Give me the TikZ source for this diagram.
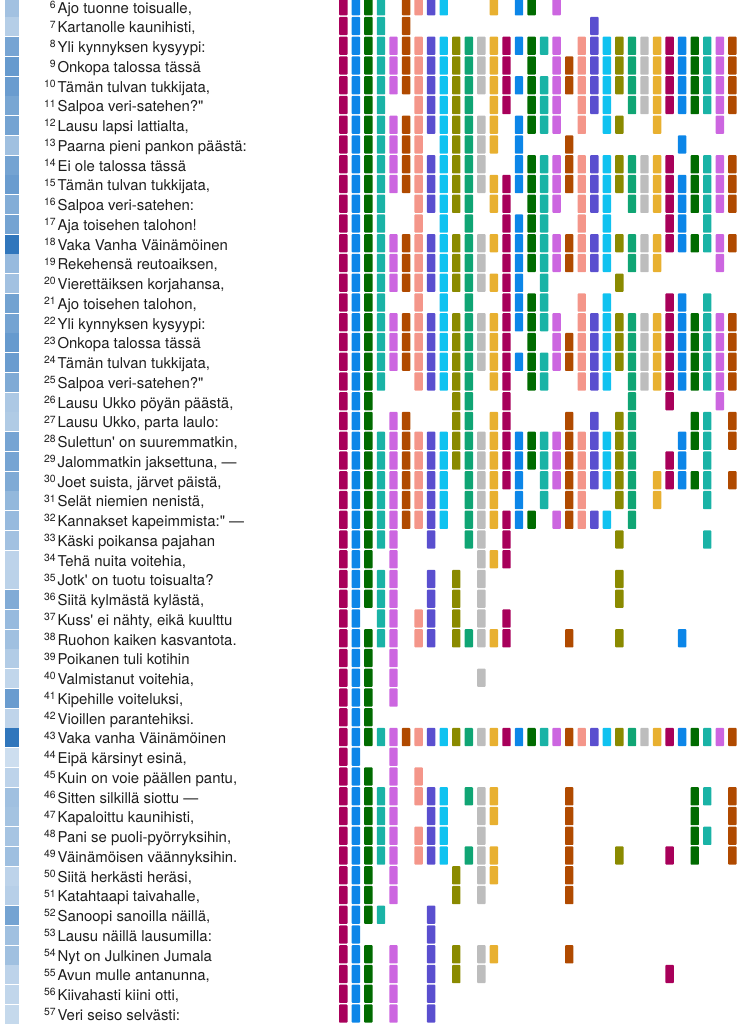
\documentclass[tikz,border=0pt]{standalone}
\usepackage{fontspec}
\newfontfamily\versefont{TeX Gyre Heros}
\usepackage{tikz}

% column colours (13 repeating)
\definecolor{col0}{RGB}{168,0,90}
\definecolor{col1}{RGB}{12,134,232}
\definecolor{col2}{RGB}{0,107,0}
\definecolor{col3}{RGB}{26,179,166}
\definecolor{col4}{RGB}{204,102,224}
\definecolor{col5}{RGB}{176,74,0}
\definecolor{col6}{RGB}{244,150,138}
\definecolor{col7}{RGB}{90,79,207}
\definecolor{col8}{RGB}{16,194,240}
\definecolor{col9}{RGB}{138,138,0}
\definecolor{col10}{RGB}{16,165,116}
\definecolor{col11}{RGB}{189,189,189}
\definecolor{col12}{RGB}{232,176,48}
\definecolor{stripblue}{RGB}{48,118,188}
\definecolor{versegray}{RGB}{30,30,30}

\begin{document}
\begin{tikzpicture}[x=0.75pt, y=-0.75pt,
    verse/.style={anchor=base west, inner sep=0pt, text=versegray,
      font=\versefont\fontsize{11.2}{13}\selectfont},
    linenum/.style={anchor=base east, inner sep=0pt, text=versegray,
      font=\versefont\fontsize{7.8}{9}\selectfont},
    cell/.style={rounded corners=0.6pt}]
    \useasboundingbox (0,0) rectangle (749,1024);
    % Left strip: shade per line
    \foreach \rw/\sh in {6/45,7/36,8/66,9/74,10/72,11/65,12/67,13/46,14/67,15/72,
        16/60,17/67,18/100,19/50,20/45,21/68,22/67,23/74,24/72,25/62,26/40,27/38,
        28/66,29/66,30/62,31/52,32/50,33/45,34/32,35/33,36/61,37/50,38/46,39/37,
        40/30,41/72,42/31,43/100,44/24,45/32,46/46,47/44,48/43,49/47,50/32,51/35,
        52/67,53/46,54/46,55/32,56/30,57/28}
      \fill[stripblue!\sh] (5,{-2.4+(\rw-6)*19.75}) rectangle ++(14.3,19.0);
    % Verse lines with their numbers
    \foreach \rw/\vs in {6/{Ajo tuonne toisualle,}, 7/{Kartanolle kaunihisti,},
        8/{Yli kynnyksen kysyypi:}, 9/{Onkopa talossa tässä},
        10/{Tämän tulvan tukkijata,}, 11/{Salpoa veri-satehen?"},
        12/{Lausu lapsi lattialta,}, 13/{Paarna pieni pankon päästä:},
        14/{Ei ole talossa tässä}, 15/{Tämän tulvan tukkijata,},
        16/{Salpoa veri-satehen:}, 17/{Aja toisehen talohon!},
        18/{Vaka Vanha Väinämöinen}, 19/{Rekehensä reutoaiksen,},
        20/{Vierettäiksen korjahansa,}, 21/{Ajo toisehen talohon,},
        22/{Yli kynnyksen kysyypi:}, 23/{Onkopa talossa tässä},
        24/{Tämän tulvan tukkijata,}, 25/{Salpoa veri-satehen?"},
        26/{Lausu Ukko pöyän päästä,}, 27/{Lausu Ukko, parta laulo:},
        28/{Sulettun' on suuremmatkin,}, 29/{Jalommatkin jaksettuna, —},
        30/{Joet suista, järvet päistä,}, 31/{Selät niemien nenistä,},
        32/{Kannakset kapeimmista:" —}, 33/{Käski poikansa pajahan},
        34/{Tehä nuita voitehia,}, 35/{Jotk' on tuotu toisualta?},
        36/{Siitä kylmästä kylästä,}, 37/{Kuss' ei nähty, eikä kuulttu},
        38/{Ruohon kaiken kasvantota.}, 39/{Poikanen tuli kotihin},
        40/{Valmistanut voitehia,}, 41/{Kipehille voiteluksi,},
        42/{Vioillen parantehiksi.}, 43/{Vaka vanha Väinämöinen},
        44/{Eipä kärsinyt esinä,}, 45/{Kuin on voie päällen pantu,},
        46/{Sitten silkillä siottu —}, 47/{Kapaloittu kaunihisti,},
        48/{Pani se puoli-pyörryksihin,}, 49/{Väinämöisen väännyksihin.},
        50/{Siitä herkästi heräsi,}, 51/{Katahtaapi taivahalle,},
        52/{Sanoopi sanoilla näillä,}, 53/{Lausu näillä lausumilla:},
        54/{Nyt on Julkinen Jumala}, 55/{Avun mulle antanunna,},
        56/{Kiivahasti kiini otti,}, 57/{Veri seiso selvästi:}} {
      \node[verse] (v\rw) at (57.3,{13.1+(\rw-6)*19.75}) {\vs};
      \node[linenum] (n\rw) at (56,{8.3+(\rw-6)*19.75}) {\rw};
    }
    % Grid: filled cells per line, colour repeats every 13 columns
    \foreach \rw/\cl in {6/{1,2,3,4,6,7,8,9,13,15,16,18},
        7/{1,2,3,4,6,21},
        8/{1,2,3,4,5,6,7,8,9,10,11,12,13,14,15,16,17,18,20,21,22,23,24,25,26,27,28,29,30,31,32},
        9/{1,2,3,4,5,6,7,8,9,10,11,12,13,14,16,18,19,20,21,22,23,24,25,26,27,28,29,30,31,32},
        10/{1,...,32},
        11/{1,2,3,4,7,8,9,10,11,13,14,16,17,18,20,21,22,24,25,26,27,28,29,30,31,32},
        12/{1,2,3,4,5,6,7,8,9,10,11,12,13,15,16,17,18,20,22,23,26,31},
        13/{1,2,3,4,5,6,7,9,10,11,12,13,15,19,28},
        14/{1,2,3,4,5,6,7,8,9,10,11,12,15,16,17,18,19,20,21,22,23,24,25,26,27,29,30,31,32},
        15/{1,...,32},
        16/{1,2,3,4,7,8,9,10,11,13,14,16,17,18,20,21,22,24,25,26,27,28,29,30,31,32},
        17/{1,2,3,4,7,9,11,14,15,16,17,20,22,27,28,30},
        18/{1,...,32},
        19/{1,2,3,4,5,6,7,8,9,10,11,12,14,15,16,17,18,19,20,21,22,24,25,26,31},
        20/{1,2,3,4,5,6,7,8,9,10,11,12,13,14,15,17,23},
        21/{1,2,3,4,7,9,11,14,15,16,17,20,22,27,28,30},
        22/{1,2,3,4,5,6,7,8,9,10,11,12,13,14,15,16,17,18,20,21,22,23,24,25,26,27,28,29,30,31,32},
        23/{1,2,3,4,5,6,7,8,9,10,11,12,13,14,16,18,19,20,21,22,23,24,25,26,27,28,29,30,31,32},
        24/{1,...,32},
        25/{1,2,3,4,7,8,9,10,11,13,14,16,17,20,21,22,24,25,26,27,28,29,30,31,32},
        26/{1,2,3,10,11,14,24,27,31},
        27/{1,2,3,5,6,10,11,13,14,19,21,23,24,29,30,32},
        28/{1,2,3,4,5,6,7,8,9,10,11,12,13,14,15,16,17,18,19,20,21,22,23,24,28,29,30,32},
        29/{1,2,3,4,5,6,7,8,9,10,11,12,13,14,15,16,17,18,19,20,21,22,23,24,27,28,30},
        30/{1,2,3,4,5,6,7,8,9,11,12,13,14,15,17,18,19,20,21,22,23,24,26,27,28,29,30,32},
        31/{1,2,3,4,5,6,7,8,9,11,12,13,15,17,19,20,23,24,26,30},
        32/{1,2,3,4,5,6,7,8,9,11,12,13,14,15,16,18,19,20,21,22,24},
        33/{1,2,3,4,5,8,11,12,14,23,30},
        34/{1,2,3,5,12,13,14},
        35/{1,2,3,4,5,8,10,12,23},
        36/{1,2,3,4,5,8,10,12,23},
        37/{1,2,4,5,7,8,10,12,14},
        38/{1,2,3,4,5,7,8,10,11,12,13,14,19,23,28},
        39/{1,2,3,5},
        40/{1,2,3,5,12},
        41/{1,2,3,5},
        42/{1,2,3},
        43/{1,...,32},
        44/{1,2,5},
        45/{1,2,3,5,7},
        46/{1,2,3,4,5,7,8,9,11,12,13,19,29,30,32},
        47/{1,2,3,4,5,8,9,12,13,19,29,32},
        48/{1,2,3,4,5,7,8,9,12,19,29,30,32},
        49/{1,2,3,4,5,7,8,9,11,12,13,19,23,27,29,32},
        50/{1,2,3,5,10,12,13,19},
        51/{1,2,3,5,10,12,19},
        52/{1,2,3,4,8},
        53/{1,2,8},
        54/{1,2,3,5,8,10,12,13,19},
        55/{1,2,3,5,8,10,12,27},
        56/{1,2,3,5,8},
        57/{1,2,3,5,8}} {
      \foreach \c in \cl {
        \pgfmathtruncatemacro{\ci}{mod(\c-1,13)}
        \fill[cell, col\ci] ({339.1+(\c-1)*12.55},{36.7+(\rw-8)*19.75})
          rectangle ++(8.4,18.2);
      }
    }
\end{tikzpicture}
\end{document}
